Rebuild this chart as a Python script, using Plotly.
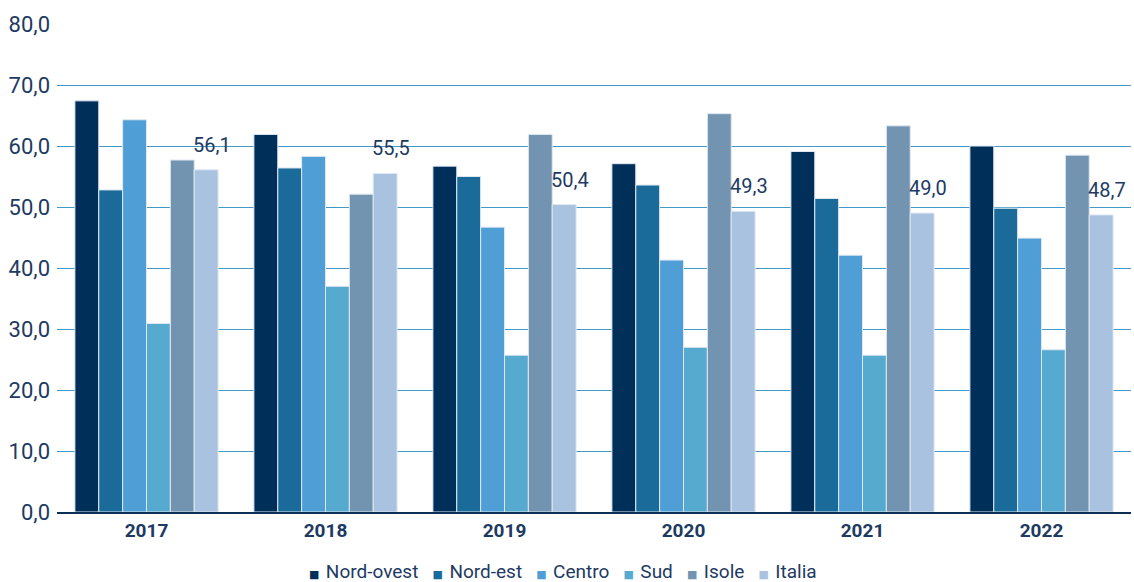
import plotly.graph_objects as go

# Anni e serie per macro-area
anni = ["2017", "2018", "2019", "2020", "2021", "2022"]
nord_ovest = [67.4, 61.9, 56.7, 57.1, 59.1, 60.0]
nord_est = [52.8, 56.4, 55.0, 53.6, 51.4, 49.8]
centro = [64.3, 58.3, 46.7, 41.3, 42.1, 44.9]
sud = [30.9, 37.0, 25.7, 27.0, 25.7, 26.6]
isole = [57.7, 52.1, 61.9, 65.3, 63.3, 58.5]
italia = [56.1, 55.5, 50.4, 49.3, 49.0, 48.7]

y_ticks = [0, 10, 20, 30, 40, 50, 60, 70, 80]

serie = [
    ("Nord-ovest", nord_ovest, "#002f5a"),
    ("Nord-est", nord_est, "#1a6b9a"),
    ("Centro", centro, "#4f9fd6"),
    ("Sud", sud, "#56a9cf"),
    ("Isole", isole, "#7294b1"),
    ("Italia", italia, "#a9c2e0"),
]

FONT = "Roboto, sans-serif"
TEXT_COLOR = "#1d3a62"
BARGAP = 0.2

fig = go.Figure()
for nome, valori, colore in serie:
    fig.add_trace(go.Bar(
        name=nome,
        x=anni,
        y=valori,
        marker=dict(color=colore, line=dict(color="#dfe8f1", width=1)),
        showlegend=False,
    ))

# Etichette di valore sopra le barre "Italia" (ultima barra di ogni gruppo)
n_serie = len(serie)
larghezza_barra = (1 - BARGAP) / n_serie
offset_italia = (1 - BARGAP) / 2 - larghezza_barra / 2
for i, v in enumerate(italia):
    fig.add_annotation(
        x=i + offset_italia, y=v,
        xref="x", yref="y",
        text=f"{v:.1f}".replace(".", ","),
        showarrow=False,
        xanchor="center", yanchor="bottom",
        xshift=6, yshift=11,
        font=dict(family=FONT, size=20, color=TEXT_COLOR),
    )

# Legenda orizzontale sotto il grafico: quadratino colorato + nome della serie
voci = []
for nome, _, colore in serie:
    voci.append(
        f'<span style="color:{colore};font-size:11px;font-family:DejaVu Sans">■</span>'
        f'<span style="font-size:7px">&nbsp;</span>&nbsp;{nome}'
    )
fig.add_annotation(
    xref="paper", yref="paper",
    x=0.4707, y=-0.121,
    xanchor="center", yanchor="middle",
    showarrow=False,
    text="&nbsp;&nbsp;&nbsp;".join(voci),
    font=dict(family=FONT, size=19, color=TEXT_COLOR),
)

fig.update_layout(
    width=1134,
    height=582,
    barmode="group",
    bargap=BARGAP,
    bargroupgap=0,
    separators=",.",
    paper_bgcolor="white",
    plot_bgcolor="white",
    margin=dict(l=57, r=3, t=24, b=70),
    font=dict(family=FONT, color=TEXT_COLOR),
    showlegend=False,
    xaxis=dict(
        showgrid=False,
        showline=True,
        linecolor="#0c2f57",
        linewidth=2,
        ticks="",
        tickfont=dict(family=FONT, size=19, color=TEXT_COLOR, weight="bold"),
    ),
    yaxis=dict(
        range=[0, 80],
        tickvals=y_ticks,
        tickformat=".1f",
        showgrid=True,
        gridcolor="#4499c4",
        gridwidth=1.2,
        zeroline=False,
        showline=False,
        ticks="",
        ticklabelstandoff=6,
        tickfont=dict(family=FONT, size=22, color=TEXT_COLOR),
    ),
)

fig.write_html("out.html")
